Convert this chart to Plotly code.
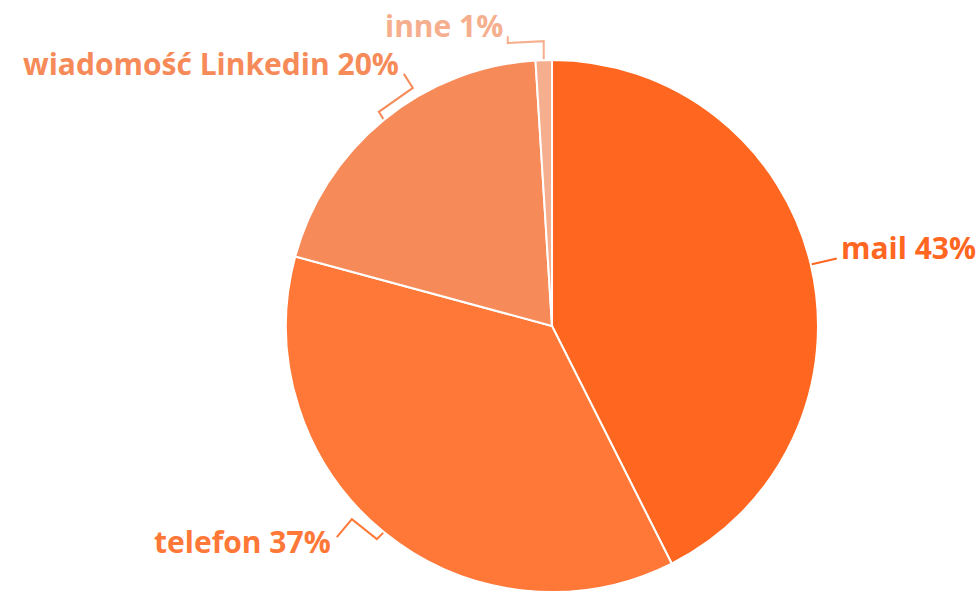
import math
import plotly.graph_objects as go

# Contact channels and their share of responses (percent)
labels = ["mail", "telefon", "wiadomość Linkedin", "inne"]
values = [43, 37, 20, 1]
colors = ["#FF661F", "#FF7838", "#F68B59", "#F6AF8E"]

W, H = 977, 592
CX, CY, R = 552, 326, 266

# Connector shapes (pixel offsets from the slice's outer midpoint)
connector_offsets = [
    [(0, 0), (26, -6)],
    [(0, 0), (-7, 7), (-32, -13), (-47, 5)],
    [(0, 0), (-5, -8), (29, -32), (20, -46)],
    [(0, 0), (0, -19), (-36, -17), (-36, -24)],
]
label_anchor = ["left", "right", "right", "right"]
label_shift = [(2, -11), (-4, 4), (-3, -10), (-3, -11)]

fig = go.Figure()

fig.add_trace(go.Pie(
    labels=labels,
    values=values,
    sort=False,
    direction="clockwise",
    rotation=0,
    marker=dict(colors=colors, line=dict(color="white", width=2)),
    textinfo="none",
    hoverinfo="label+percent",
    showlegend=False,
    domain=dict(x=[(CX - R) / W, (CX + R) / W], y=[(H - CY - R) / H, (H - CY + R) / H]),
))

total = sum(values)
cum = 0
annotations = []
for lab, val, col, offs, anc, sh in zip(labels, values, colors, connector_offsets,
                                         label_anchor, label_shift):
    mid = (cum + val / 2) / total * 2 * math.pi
    cum += val
    px = CX + R * math.sin(mid)
    py = CY - R * math.cos(mid)
    xs = [px + dx for dx, dy in offs]
    ys = [py + dy for dx, dy in offs]
    fig.add_trace(go.Scatter(
        x=xs, y=ys, mode="lines", line=dict(color=col, width=2),
        hoverinfo="skip", showlegend=False, xaxis="x", yaxis="y",
    ))
    annotations.append(dict(
        x=xs[-1] + sh[0], y=ys[-1] + sh[1], xref="x", yref="y",
        text=f"{lab} {val}%", showarrow=False,
        xanchor=anc, yanchor="middle",
        font=dict(family="Open Sans", size=30, color=col, weight="bold"),
    ))

fig.update_layout(
    width=W, height=H,
    margin=dict(l=0, r=0, t=0, b=0),
    paper_bgcolor="white", plot_bgcolor="rgba(0,0,0,0)",
    xaxis=dict(range=[0, W], visible=False, domain=[0, 1], fixedrange=True),
    yaxis=dict(range=[H, 0], visible=False, domain=[0, 1], fixedrange=True),
    annotations=annotations,
)

fig.write_html("out.html")
